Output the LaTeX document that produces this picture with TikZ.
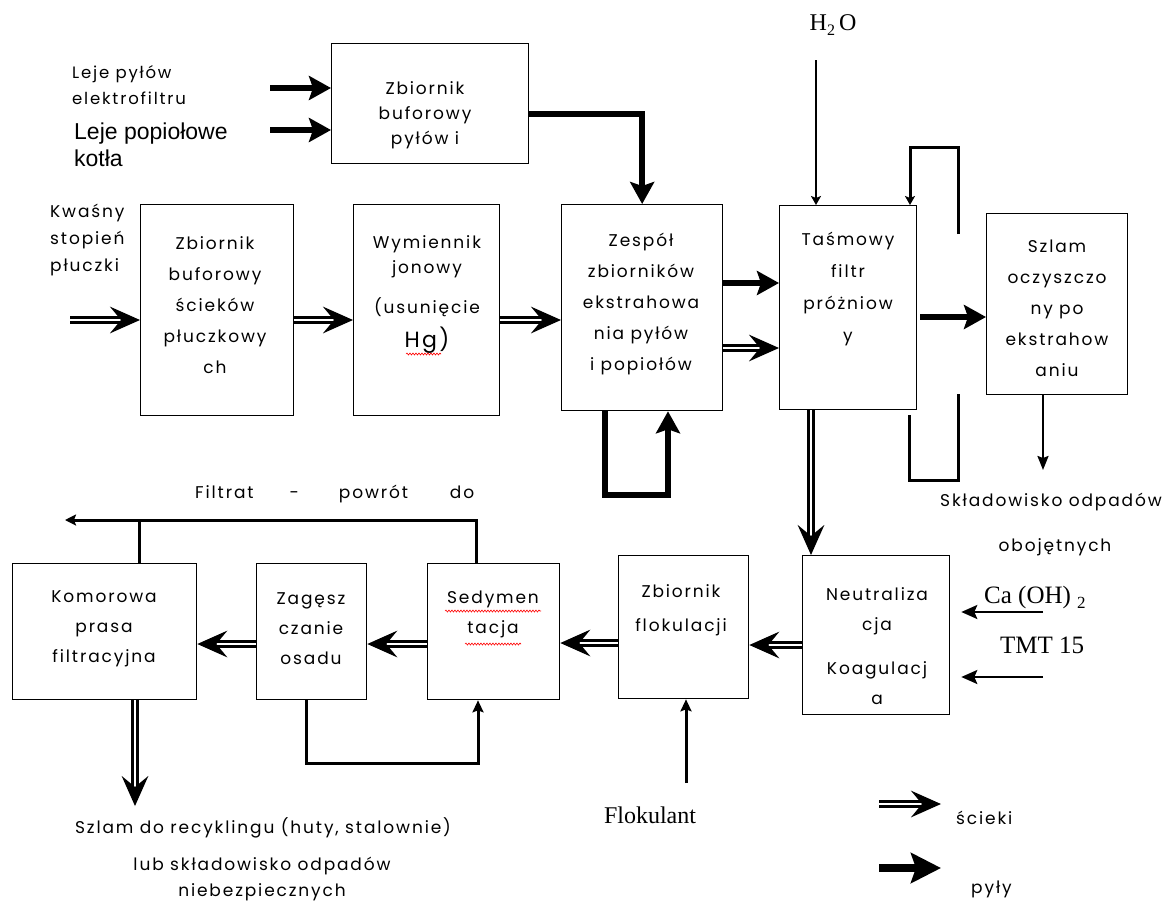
\documentclass[tikz,border=0pt]{standalone}
\usepackage{fontspec}
\setmainfont{Poppins}
\newfontfamily\gothic[LetterSpace=11]{Poppins}
\newfontfamily\arialf{Liberation Sans}
\newfontfamily\timesf{Liberation Serif}
\usetikzlibrary{arrows.meta,calc,decorations.pathmorphing}
\tikzset{
  box/.style={draw, line width=1.3pt, anchor=north west, inner sep=0pt},
  btxt/.style={align=center, inner sep=0pt, font=\gothic\fontsize{17}{30}\selectfont},
  lbl/.style={inner sep=0pt, font=\gothic\fontsize{17}{27}\selectfont},
  tms/.style={inner sep=0pt, font=\timesf\fontsize{25}{28}\selectfont},
  pyl/.style={line width=6.5pt, -{Stealth[length=22pt,width=24pt,inset=4pt]}},
  pylbig/.style={line width=8pt, -{Stealth[length=30pt,width=30pt,inset=5pt]}},
  thinarr/.style={line width=2.2pt, -{Stealth[length=12pt,width=11pt,inset=2pt]}},
  loopline/.style={line width=3pt},
  wavy/.style={red, line width=0.6pt, decorate, decoration={snake, amplitude=1pt, segment length=3pt}},
}
\newcommand\dbl[2]{%
  \draw[line width=8pt, shorten >=17pt] (#1) -- (#2);
  \draw[white, line width=2.6pt, shorten >=15pt] (#1) -- (#2);
  \fill (#2) -- ($(#2)!33pt!24:(#1)$) -- ($(#2)!19pt!(#1)$) -- ($(#2)!33pt!-24:(#1)$) -- cycle;}
\begin{document}
\begin{tikzpicture}[x=1pt,y=-1pt]
\useasboundingbox (0,0) rectangle (1173,900);
\fill[white] (0,0) rectangle (1173,900);
\clip (0,0) rectangle (1173,900);

% boxes
\node[box, minimum width=197pt, minimum height=120pt] (A) at (331,43) {};
\node[box, minimum width=153pt, minimum height=211pt] (B) at (140,204) {};
\node[box, minimum width=146pt, minimum height=211pt] (C) at (353,204) {};
\node[box, minimum width=161pt, minimum height=206pt] (D) at (561,204) {};
\node[box, minimum width=137pt, minimum height=204pt] (E) at (779,205) {};
\node[box, minimum width=141pt, minimum height=181pt] (F) at (986,213) {};
\node[box, minimum width=184pt, minimum height=136pt] (G) at (12,563) {};
\node[box, minimum width=110pt, minimum height=136pt] (H) at (256,563) {};
\node[box, minimum width=132pt, minimum height=136pt] (I) at (427,563) {};
\node[box, minimum width=130pt, minimum height=143pt] (J) at (618,555) {};
\node[box, minimum width=147pt, minimum height=159pt] (K) at (802,555) {};

% box texts
\node[btxt, font=\gothic\fontsize{17}{25}\selectfont] (At) at (425,115) {Zbiornik\\buforowy\\pyłów i};
\node[btxt, font=\gothic\fontsize{17}{31}\selectfont] (Bt) at (215,305) {Zbiornik\\buforowy\\ścieków\\płuczkowy\\ch};
\node[btxt] (Ct) at (427,294) {Wymiennik\\[-5pt]jonowy\\[10pt](usunięcie\\[4pt]{\fontsize{22}{22}\selectfont Hg)}};
\node[btxt, font=\gothic\fontsize{17}{31}\selectfont] (Dt) at (641,304) {Zespół\\zbiorników\\ekstrahowa\\nia pyłów\\i popiołów};
\node[btxt, font=\gothic\fontsize{17}{32}\selectfont] (Et) at (848,289) {Taśmowy\\filtr\\próżniow\\y};
\node[btxt, font=\gothic\fontsize{17}{31}\selectfont] (Ft) at (1057,308) {Szlam\\oczyszczo\\ny po\\ekstrahow\\aniu};
\node[btxt] (Gt) at (104,629) {Komorowa\\prasa\\filtracyjna};
\node[btxt] (Ht) at (311,629) {Zagęsz\\czanie\\osadu};
\node[btxt] (It) at (493,614) {Sedymen\\tacja};
\node[btxt, font=\gothic\fontsize{17}{34}\selectfont] (Jt) at (681,610) {Zbiornik\\flokulacji};
\node[btxt] (Kt) at (877,646) {Neutraliza\\cja\\[14pt]Koagulacj\\a};

% spell-check marks
\draw[wavy] (406,354) -- (441,354);
\draw[wavy] (445,611) -- (541,611);
\draw[wavy] (465,644) -- (521,644);

% labels
\node[lbl, align=left, anchor=west, font=\gothic\fontsize{16.5}{26}\selectfont] (l1) at (72,85) {Leje pyłów\\elektrofiltru};
\node[inner sep=0pt, align=left, anchor=west, font=\arialf\fontsize{23}{27}\selectfont] (l2) at (74,145) {Leje popiołowe\\kotła};
\node[lbl, align=left, anchor=west] (l3) at (50,240) {Kwaśny\\stopień\\płuczki};
\node[tms, font=\timesf\fontsize{24}{28}\selectfont] (h2o) at (833,25) {H\raisebox{-5pt}{\fontsize{16}{16}\selectfont 2}\,O};
\node[lbl, anchor=west] (filt) at (195,494) {Filtrat\hspace{36pt}-\hspace{40pt}powrót\hspace{42pt}do};
\node[lbl, anchor=west] (skl) at (940,502) {Składowisko odpadów};
\node[lbl] (obo) at (1055,547) {obojętnych};
\node[tms, anchor=west] (ca) at (984,597) {Ca (OH) \raisebox{-5pt}{\fontsize{17}{17}\selectfont 2}};
\node[tms, anchor=west] (tmt) at (1000,645) {TMT 15};
\node[tms, font=\timesf\fontsize{24}{28}\selectfont] (flok) at (650,815) {Flokulant};
\node[lbl] (sz1) at (263,828) {Szlam do recyklingu (huty, stalownie)};
\node[lbl] (sz2) at (262,866) {lub składowisko odpadów};
\node[lbl] (sz3) at (262,892) {niebezpiecznych};
\node[lbl, anchor=west] (lg1t) at (956,818) {ścieki};
\node[lbl, anchor=west] (lg2t) at (971,889) {pyły};

% coordinates
\coordinate (a1) at (270,88);
\coordinate (a2) at (270,130);
\coordinate (k0) at (70,320);
\coordinate (w0) at (816,60);
\coordinate (fe) at (1043,470);
\coordinate (ca0) at (1043,612);
\coordinate (tm0) at (1043,677);
\coordinate (fl0) at (686,783);
\coordinate (gd) at (135,806);
\coordinate (fa) at (65,520);
\coordinate (lgA) at (879,804);
\coordinate (lgB) at (941,804);
\coordinate (lgC) at (879,868);
\coordinate (lgD) at (941,868);

% pyły arrows
\draw[pyl] (a1) -- (A.west |- a1);
\draw[pyl] (a2) -- (A.west |- a2);
\draw[pyl] (A.east |- 0,114) -| (D.north);
\draw[pyl] (D.east |- 0,283) -- (E.west |- 0,283);
\draw[pyl, shorten <=3pt] (E.east |- 0,317) -- (F.west |- 0,317);
\draw[pyl] (D.south -| 605,0) -- (605,495) -- (668,495) -- (D.south -| 668,0);

% ścieki arrows
\coordinate (kB) at (B.west |- k0);
\dbl{k0}{kB}
\coordinate (bc1) at (B.east |- 0,320);
\coordinate (bc2) at (C.west |- 0,320);
\dbl{bc1}{bc2}
\coordinate (cd1) at (C.east |- 0,320);
\coordinate (cd2) at (D.west |- 0,320);
\dbl{cd1}{cd2}
\coordinate (de1) at (D.east |- 0,348);
\coordinate (de2) at (E.west |- 0,348);
\dbl{de1}{de2}
\coordinate (ek1) at (E.south -| 811,0);
\coordinate (ek2) at (K.north -| 811,0);
\dbl{ek1}{ek2}
\coordinate (kj1) at (K.west |- 0,645);
\coordinate (kj2) at (J.east |- 0,645);
\dbl{kj1}{kj2}
\coordinate (ji1) at (J.west |- 0,643);
\coordinate (ji2) at (I.east |- 0,643);
\dbl{ji1}{ji2}
\coordinate (ih1) at (I.west |- 0,644);
\coordinate (ih2) at (H.east |- 0,644);
\dbl{ih1}{ih2}
\coordinate (hg1) at (H.west |- 0,644);
\coordinate (hg2) at (G.east |- 0,644);
\dbl{hg1}{hg2}
\coordinate (gd0) at (G.south -| gd);
\dbl{gd0}{gd}

% thin arrows
\draw[thinarr, -{Stealth[length=9pt,width=10pt,inset=2pt]}] (w0) -- (E.north -| w0);
\draw[loopline, -{Stealth[length=9pt,width=10pt,inset=2pt]}] (958,234) -- (958,147) -- (910,147) -- (E.north -| 910,0);
\draw[loopline] (909,415) -- (909,480) -- (958,480) -- (958,394);
\draw[thinarr, -{Stealth[length=14pt,width=11pt,inset=2pt]}] (F.south -| fe) -- (fe);
\draw[thinarr, -{Stealth[length=16pt,width=14pt,inset=3pt]}, shorten >=11pt] (ca0) -- (K.east |- ca0);
\draw[thinarr, -{Stealth[length=16pt,width=14pt,inset=3pt]}, shorten >=11pt] (tm0) -- (K.east |- tm0);
\draw[loopline, -{Stealth[length=12pt,width=11pt,inset=2pt]}] (fl0) -- (J.south -| fl0);
\draw[loopline, -{Stealth[length=12pt,width=11pt,inset=2pt]}] (H.south -| 306,0) -- (306,763) -- (478,763) -- (I.south -| 478,0);
\draw[loopline, -{Stealth[length=11pt,width=11pt,inset=2pt]}] (I.north -| 476,0) -- (476,520) -- (fa);
\draw[loopline] (G.north -| 139,0) -- (139,520);

% legend
\dbl{lgA}{lgB}
\draw[pylbig] (lgC) -- (lgD);
\end{tikzpicture}
\end{document}
